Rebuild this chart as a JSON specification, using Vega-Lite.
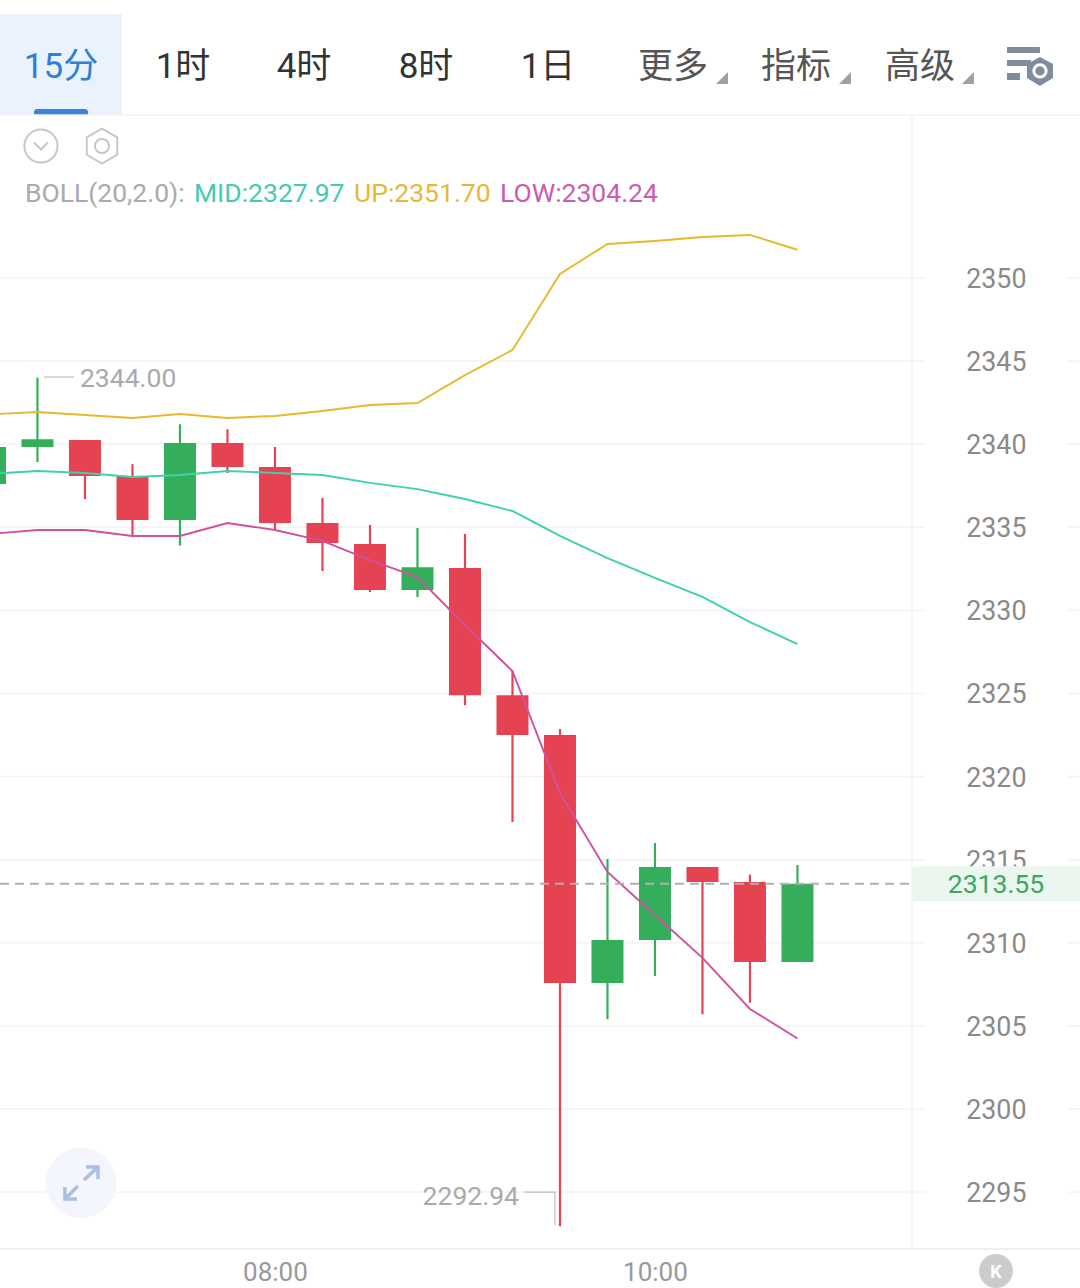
{
"$schema":"https://vega.github.io/schema/vega-lite/v6.json",
"width":1080,"height":1288,"padding":0,"autosize":{"type":"none"},"background":"#ffffff",
"config":{"view":{"stroke":null},"font":"Roboto","text":{"font":"Roboto, Noto Sans CJK SC","dy":1.5},"scale":{"continuousPadding":0}},
"datasets":{
"levels":[{"level":2295},{"level":2300},{"level":2305},{"level":2310},{"level":2315},{"level":2320},{"level":2325},{"level":2330},{"level":2335},{"level":2340},{"level":2345},{"level":2350}],
"candles":[
{"time":"2024-01-01T06:30:00Z","open":2337.6,"close":2339.83,"high":2339.83,"low":2337.6,"dir":"up"},
{"time":"2024-01-01T06:45:00Z","open":2339.83,"close":2340.3,"high":2344.0,"low":2338.93,"dir":"up"},
{"time":"2024-01-01T07:00:00Z","open":2340.25,"close":2338.09,"high":2340.25,"low":2336.7,"dir":"down"},
{"time":"2024-01-01T07:15:00Z","open":2338.09,"close":2335.44,"high":2338.8,"low":2334.54,"dir":"down"},
{"time":"2024-01-01T07:30:00Z","open":2335.44,"close":2340.07,"high":2341.2,"low":2333.9,"dir":"up"},
{"time":"2024-01-01T07:45:00Z","open":2340.07,"close":2338.63,"high":2340.9,"low":2338.27,"dir":"down"},
{"time":"2024-01-01T08:00:00Z","open":2338.63,"close":2335.26,"high":2339.83,"low":2334.84,"dir":"down"},
{"time":"2024-01-01T08:15:00Z","open":2335.26,"close":2334.05,"high":2336.76,"low":2332.37,"dir":"down"},
{"time":"2024-01-01T08:30:00Z","open":2334.0,"close":2331.23,"high":2335.14,"low":2331.1,"dir":"down"},
{"time":"2024-01-01T08:45:00Z","open":2331.23,"close":2332.6,"high":2334.96,"low":2330.8,"dir":"up"},
{"time":"2024-01-01T09:00:00Z","open":2332.55,"close":2324.9,"high":2334.6,"low":2324.3,"dir":"down"},
{"time":"2024-01-01T09:15:00Z","open":2324.9,"close":2322.5,"high":2326.35,"low":2317.27,"dir":"down"},
{"time":"2024-01-01T09:30:00Z","open":2322.5,"close":2307.58,"high":2322.86,"low":2292.94,"dir":"down"},
{"time":"2024-01-01T09:45:00Z","open":2307.58,"close":2310.17,"high":2315.04,"low":2305.4,"dir":"up"},
{"time":"2024-01-01T10:00:00Z","open":2310.17,"close":2314.56,"high":2316.0,"low":2308.0,"dir":"up"},
{"time":"2024-01-01T10:15:00Z","open":2314.56,"close":2313.66,"high":2314.56,"low":2305.7,"dir":"down"},
{"time":"2024-01-01T10:30:00Z","open":2313.66,"close":2308.85,"high":2314.1,"low":2306.4,"dir":"down"},
{"time":"2024-01-01T10:45:00Z","open":2308.85,"close":2313.55,"high":2314.68,"low":2308.85,"dir":"up"}
],
"bands":[
{"time":"2024-01-01T06:30:00Z","band":"UP","value":2341.79},{"time":"2024-01-01T06:45:00Z","band":"UP","value":2341.94},{"time":"2024-01-01T07:00:00Z","band":"UP","value":2341.76},{"time":"2024-01-01T07:15:00Z","band":"UP","value":2341.58},{"time":"2024-01-01T07:30:00Z","band":"UP","value":2341.82},{"time":"2024-01-01T07:45:00Z","band":"UP","value":2341.58},{"time":"2024-01-01T08:00:00Z","band":"UP","value":2341.7},{"time":"2024-01-01T08:15:00Z","band":"UP","value":2342.0},{"time":"2024-01-01T08:30:00Z","band":"UP","value":2342.36},{"time":"2024-01-01T08:45:00Z","band":"UP","value":2342.48},{"time":"2024-01-01T09:00:00Z","band":"UP","value":2344.16},{"time":"2024-01-01T09:15:00Z","band":"UP","value":2345.67},{"time":"2024-01-01T09:30:00Z","band":"UP","value":2350.24},{"time":"2024-01-01T09:45:00Z","band":"UP","value":2352.05},{"time":"2024-01-01T10:00:00Z","band":"UP","value":2352.23},{"time":"2024-01-01T10:15:00Z","band":"UP","value":2352.47},{"time":"2024-01-01T10:30:00Z","band":"UP","value":2352.59},{"time":"2024-01-01T10:45:00Z","band":"UP","value":2351.7},
{"time":"2024-01-01T06:30:00Z","band":"MID","value":2338.21},{"time":"2024-01-01T06:45:00Z","band":"MID","value":2338.39},{"time":"2024-01-01T07:00:00Z","band":"MID","value":2338.27},{"time":"2024-01-01T07:15:00Z","band":"MID","value":2338.03},{"time":"2024-01-01T07:30:00Z","band":"MID","value":2338.15},{"time":"2024-01-01T07:45:00Z","band":"MID","value":2338.39},{"time":"2024-01-01T08:00:00Z","band":"MID","value":2338.27},{"time":"2024-01-01T08:15:00Z","band":"MID","value":2338.15},{"time":"2024-01-01T08:30:00Z","band":"MID","value":2337.67},{"time":"2024-01-01T08:45:00Z","band":"MID","value":2337.3},{"time":"2024-01-01T09:00:00Z","band":"MID","value":2336.7},{"time":"2024-01-01T09:15:00Z","band":"MID","value":2335.98},{"time":"2024-01-01T09:30:00Z","band":"MID","value":2334.48},{"time":"2024-01-01T09:45:00Z","band":"MID","value":2333.15},{"time":"2024-01-01T10:00:00Z","band":"MID","value":2331.95},{"time":"2024-01-01T10:15:00Z","band":"MID","value":2330.81},{"time":"2024-01-01T10:30:00Z","band":"MID","value":2329.3},{"time":"2024-01-01T10:45:00Z","band":"MID","value":2327.97},
{"time":"2024-01-01T06:30:00Z","band":"LOW","value":2334.6},{"time":"2024-01-01T06:45:00Z","band":"LOW","value":2334.84},{"time":"2024-01-01T07:00:00Z","band":"LOW","value":2334.84},{"time":"2024-01-01T07:15:00Z","band":"LOW","value":2334.48},{"time":"2024-01-01T07:30:00Z","band":"LOW","value":2334.48},{"time":"2024-01-01T07:45:00Z","band":"LOW","value":2335.26},{"time":"2024-01-01T08:00:00Z","band":"LOW","value":2334.84},{"time":"2024-01-01T08:15:00Z","band":"LOW","value":2334.18},{"time":"2024-01-01T08:30:00Z","band":"LOW","value":2333.03},{"time":"2024-01-01T08:45:00Z","band":"LOW","value":2332.01},{"time":"2024-01-01T09:00:00Z","band":"LOW","value":2329.12},{"time":"2024-01-01T09:15:00Z","band":"LOW","value":2326.35},{"time":"2024-01-01T09:30:00Z","band":"LOW","value":2319.01},{"time":"2024-01-01T09:45:00Z","band":"LOW","value":2314.26},{"time":"2024-01-01T10:00:00Z","band":"LOW","value":2311.67},{"time":"2024-01-01T10:15:00Z","band":"LOW","value":2309.09},{"time":"2024-01-01T10:30:00Z","band":"LOW","value":2306.02},{"time":"2024-01-01T10:45:00Z","band":"LOW","value":2304.24}
]},
"data":{"name":"candles"},
"resolve":{"scale":{"color":"independent"},"axis":{"x":"independent","y":"independent"}},
"layer":[
{"data":{"name":"levels"},"mark":{"type":"rule","color":"#f3f3f3","strokeWidth":1.5},
"encoding":{
"x":{"datum":1704090790000,"type":"temporal","scale":{"type":"utc","domain":[1704090790000,1704111253000],"nice":false,"padding":0},
"axis":{"orient":"bottom","offset":-39,"title":null,"domain":false,"ticks":false,"grid":false,"values":[1704096000000,1704103200000],"format":"%H:%M","labelFontSize":26,"labelColor":"#999999","labelPadding":10,"labelFont":"Roboto","labelBaseline":"top"}},
"x2":{"datum":1704108316000},
"y":{"field":"level","type":"quantitative","scale":{"domain":[2289.229,2366.727],"nice":false,"zero":false},
"axis":{"orient":"right","title":null,"domain":false,"ticks":false,"grid":false,"values":[2295,2300,2305,2310,2315,2320,2325,2330,2335,2340,2345,2350],"format":"d","labelFontSize":26.8,"labelColor":"#8a8a8a","labelPadding":-54,"labelAlign":"right","labelFont":"Roboto","labelOffset":1.5}}}},
{"data":{"name":"levels"},"mark":{"type":"rule","color":"#f3f3f3","strokeWidth":1.5},
"encoding":{"x":{"datum":1704111025000,"type":"temporal","axis":null},"x2":{"datum":1704111253000},"y":{"field":"level","type":"quantitative","axis":null}}},

{"data":{"values":[{"part":"tab"}]},"mark":{"type":"rect","color":"#e9f2fd"},"encoding":{"x":{"datum":1704090790000,"type":"temporal","axis":null},"x2":{"datum":1704093101000},"y":{"datum":2365.88,"type":"quantitative","axis":null},"y2":{"datum":2359.81}}},
{"data":{"values":[{"part":"tab marker"}]},"mark":{"type":"rect","color":"#3b82e0","cornerRadiusTopLeft":5,"cornerRadiusTopRight":5},"encoding":{"x":{"datum":1704091434000,"type":"temporal","axis":null},"x2":{"datum":1704092457000},"y":{"datum":2360.17,"type":"quantitative","axis":null},"y2":{"datum":2359.81}}},
{"data":{"values":[{"part":"header line"}]},"mark":{"type":"rule","color":"#f3f3f3","strokeWidth":1.5},"encoding":{"x":{"datum":1704090790000,"type":"temporal","axis":null},"x2":{"datum":1704111253000},"y":{"datum":2359.81,"type":"quantitative","axis":null}}},
{"data":{"values":[{"part":"footer line"}]},"mark":{"type":"rule","color":"#f0f0f0","strokeWidth":2},"encoding":{"x":{"datum":1704090790000,"type":"temporal","axis":null},"x2":{"datum":1704111253000},"y":{"datum":2291.58,"type":"quantitative","axis":null}}},
{"data":{"values":[{"part":"price divider"}]},"mark":{"type":"rule","color":"#f1f1f1","strokeWidth":1.5},"encoding":{"x":{"datum":1704108070000,"type":"temporal","axis":null},"y":{"datum":2359.81,"type":"quantitative","axis":null},"y2":{"datum":2291.64}}},

{"data":{"values":[{"label":"15分"}]},"mark":{"type":"text","fontSize":35,"color":"#2f7fd6","baseline":"middle"},"encoding":{"text":{"field":"label"},"x":{"datum":1704091945000,"type":"temporal","axis":null},"y":{"datum":2362.76,"type":"quantitative","axis":null}}},
{"data":{"values":[{"label":"1时"}]},"mark":{"type":"text","fontSize":35,"color":"#333333","baseline":"middle"},"encoding":{"text":{"field":"label"},"x":{"datum":1704094257000,"type":"temporal","axis":null},"y":{"datum":2362.76,"type":"quantitative","axis":null}}},
{"data":{"values":[{"label":"4时"}]},"mark":{"type":"text","fontSize":35,"color":"#333333","baseline":"middle"},"encoding":{"text":{"field":"label"},"x":{"datum":1704096550000,"type":"temporal","axis":null},"y":{"datum":2362.76,"type":"quantitative","axis":null}}},
{"data":{"values":[{"label":"8时"}]},"mark":{"type":"text","fontSize":35,"color":"#333333","baseline":"middle"},"encoding":{"text":{"field":"label"},"x":{"datum":1704098861000,"type":"temporal","axis":null},"y":{"datum":2362.76,"type":"quantitative","axis":null}}},
{"data":{"values":[{"label":"1日"}]},"mark":{"type":"text","fontSize":35,"color":"#333333","baseline":"middle"},"encoding":{"text":{"field":"label"},"x":{"datum":1704101173000,"type":"temporal","axis":null},"y":{"datum":2362.76,"type":"quantitative","axis":null}}},
{"data":{"values":[{"label":"更多"}]},"mark":{"type":"text","fontSize":35,"color":"#555555","baseline":"middle"},"encoding":{"text":{"field":"label"},"x":{"datum":1704103541000,"type":"temporal","axis":null},"y":{"datum":2362.76,"type":"quantitative","axis":null}}},
{"data":{"values":[{"label":"指标"}]},"mark":{"type":"text","fontSize":35,"color":"#555555","baseline":"middle"},"encoding":{"text":{"field":"label"},"x":{"datum":1704105872000,"type":"temporal","axis":null},"y":{"datum":2362.76,"type":"quantitative","axis":null}}},
{"data":{"values":[{"label":"高级"}]},"mark":{"type":"text","fontSize":35,"color":"#555555","baseline":"middle"},"encoding":{"text":{"field":"label"},"x":{"datum":1704108221000,"type":"temporal","axis":null},"y":{"datum":2362.76,"type":"quantitative","axis":null}}},
{"data":{"values":[{"part":"menu corner"}]},"mark":{"type":"point","shape":"M 1 -1 L 1 1 L -1 1 Z","filled":true,"color":"#a0a0a0","opacity":1,"size":144},"encoding":{"x":{"datum":1704104470000,"type":"temporal","axis":null},"y":{"datum":2362.03,"type":"quantitative","axis":null}}},
{"data":{"values":[{"part":"menu corner"}]},"mark":{"type":"point","shape":"M 1 -1 L 1 1 L -1 1 Z","filled":true,"color":"#a0a0a0","opacity":1,"size":144},"encoding":{"x":{"datum":1704106800000,"type":"temporal","axis":null},"y":{"datum":2362.03,"type":"quantitative","axis":null}}},
{"data":{"values":[{"part":"menu corner"}]},"mark":{"type":"point","shape":"M 1 -1 L 1 1 L -1 1 Z","filled":true,"color":"#a0a0a0","opacity":1,"size":144},"encoding":{"x":{"datum":1704109130000,"type":"temporal","axis":null},"y":{"datum":2362.03,"type":"quantitative","axis":null}}},
{"data":{"values":[{"part":"settings"}]},"mark":{"type":"point","shape":"M -0.92 -0.76 L 0.4 -0.76 L 0.4 -0.52 L -0.92 -0.52 Z M -0.92 -0.24 L 0.04 -0.24 L 0.04 0 L -0.92 0 Z M -0.92 0.28 L -0.4 0.28 L -0.4 0.56 L -0.92 0.56 Z M 0.4 -0.36 L 0.92 -0.08 L 0.92 0.48 L 0.4 0.8 L -0.12 0.48 L -0.12 -0.08 Z","filled":true,"color":"#7f8d9b","opacity":1,"size":2500},"encoding":{"x":{"datum":1704110305000,"type":"temporal","axis":null},"y":{"datum":2362.76,"type":"quantitative","axis":null}}},
{"data":{"values":[{"part":"settings ring"}]},"mark":{"type":"point","shape":"circle","filled":false,"stroke":"#ffffff","strokeWidth":3,"opacity":1,"size":150},"encoding":{"x":{"datum":1704110495000,"type":"temporal","axis":null},"y":{"datum":2362.46,"type":"quantitative","axis":null}}},

{"data":{"values":[{"part":"collapse"}]},"mark":{"type":"point","shape":"circle","filled":false,"stroke":"#c8c8c8","strokeWidth":2,"opacity":1,"size":1100},"encoding":{"x":{"datum":1704091566000,"type":"temporal","axis":null},"y":{"datum":2357.94,"type":"quantitative","axis":null}}},
{"data":{"values":[{"part":"chevron"}]},"mark":{"type":"point","shape":"M -1 -0.5 L 0 0.5 L 1 -0.5","filled":false,"stroke":"#c8c8c8","strokeWidth":2,"opacity":1,"size":196},"encoding":{"x":{"datum":1704091566000,"type":"temporal","axis":null},"y":{"datum":2357.94,"type":"quantitative","axis":null}}},
{"data":{"values":[{"part":"hex"}]},"mark":{"type":"point","shape":"M 0 -1 L 0.87 -0.5 L 0.87 0.5 L 0 1 L -0.87 0.5 L -0.87 -0.5 Z","filled":false,"stroke":"#c8c8c8","strokeWidth":2,"opacity":1,"size":1225},"encoding":{"x":{"datum":1704092722000,"type":"temporal","axis":null},"y":{"datum":2357.94,"type":"quantitative","axis":null}}},
{"data":{"values":[{"part":"hex hole"}]},"mark":{"type":"point","shape":"circle","filled":false,"stroke":"#c8c8c8","strokeWidth":2,"opacity":1,"size":200},"encoding":{"x":{"datum":1704092722000,"type":"temporal","axis":null},"y":{"datum":2357.94,"type":"quantitative","axis":null}}},

{"data":{"values":[{"label":"BOLL(20,2.0):"}]},"mark":{"type":"text","fontSize":26.5,"color":"#aaaaaa","align":"left","baseline":"middle"},"encoding":{"text":{"field":"label"},"x":{"datum":1704091263000,"type":"temporal","axis":null},"y":{"datum":2355.17,"type":"quantitative","axis":null}}},
{"data":{"values":[{"label":"MID:2327.97"}]},"mark":{"type":"text","fontSize":26.5,"color":"#45cbae","align":"left","baseline":"middle"},"encoding":{"text":{"field":"label"},"x":{"datum":1704094465000,"type":"temporal","axis":null},"y":{"datum":2355.17,"type":"quantitative","axis":null}}},
{"data":{"values":[{"label":"UP:2351.70"}]},"mark":{"type":"text","fontSize":26.5,"color":"#e9b63c","align":"left","baseline":"middle"},"encoding":{"text":{"field":"label"},"x":{"datum":1704097497000,"type":"temporal","axis":null},"y":{"datum":2355.17,"type":"quantitative","axis":null}}},
{"data":{"values":[{"label":"LOW:2304.24"}]},"mark":{"type":"text","fontSize":26.5,"color":"#cd5cb0","align":"left","baseline":"middle"},"encoding":{"text":{"field":"label"},"x":{"datum":1704100263000,"type":"temporal","axis":null},"y":{"datum":2355.17,"type":"quantitative","axis":null}}},

{"mark":{"type":"rule","strokeWidth":2.2,"clip":true},"encoding":{
"x":{"field":"time","type":"temporal","axis":null,"scale":{"type":"utc","domain":[1704090790000,1704111253000],"nice":false,"padding":0}},
"y":{"field":"low","type":"quantitative","axis":null},"y2":{"field":"high"},
"color":{"field":"dir","type":"nominal","legend":null,"scale":{"domain":["up","down"],"range":["#34ae5a","#e64352"]}}}},
{"mark":{"type":"bar","width":32,"clip":true},"encoding":{
"x":{"field":"time","type":"temporal","axis":null,"scale":{"type":"utc","domain":[1704090790000,1704111253000],"nice":false,"padding":0}},
"y":{"field":"open","type":"quantitative","axis":null},"y2":{"field":"close"},
"color":{"field":"dir","type":"nominal","legend":null,"scale":{"domain":["up","down"],"range":["#34ae5a","#e64352"]}}}},
{"data":{"name":"bands"},"mark":{"type":"line","strokeWidth":1.9,"clip":true,"interpolate":"linear"},"encoding":{
"x":{"field":"time","type":"temporal","axis":null,"scale":{"type":"utc","domain":[1704090790000,1704111253000],"nice":false,"padding":0}},
"y":{"field":"value","type":"quantitative","axis":null},
"color":{"field":"band","type":"nominal","legend":null,"scale":{"domain":["UP","MID","LOW"],"range":["#e8b92e","#3fd0af","#d0509f"]}}}},

{"data":{"values":[{"label":"2344.00"}]},"mark":{"type":"text","fontSize":26.5,"color":"#aaaaaa","align":"left","baseline":"middle"},"encoding":{"text":{"field":"label"},"x":{"datum":1704092305000,"type":"temporal","axis":null},"y":{"datum":2344.0,"type":"quantitative","axis":null}}},
{"data":{"values":[{"part":"high leader"}]},"mark":{"type":"rule","color":"#bdbdbd","strokeWidth":1.2},"encoding":{"x":{"datum":1704091623000,"type":"temporal","axis":null},"x2":{"datum":1704092192000},"y":{"datum":2344.04,"type":"quantitative","axis":null}}},
{"data":{"values":[{"label":"2292.94"}]},"mark":{"type":"text","fontSize":26.5,"color":"#aaaaaa","align":"right","baseline":"middle"},"encoding":{"text":{"field":"label"},"x":{"datum":1704100623000,"type":"temporal","axis":null},"y":{"datum":2294.8,"type":"quantitative","axis":null}}},
{"data":{"values":[{"part":"low leader"}]},"mark":{"type":"rule","color":"#bdbdbd","strokeWidth":1.2},"encoding":{"x":{"datum":1704100718000,"type":"temporal","axis":null},"x2":{"datum":1704101305000},"y":{"datum":2295.0,"type":"quantitative","axis":null}}},
{"data":{"values":[{"part":"low leader"}]},"mark":{"type":"rule","color":"#bdbdbd","strokeWidth":1.2},"encoding":{"x":{"datum":1704101305000,"type":"temporal","axis":null},"y":{"datum":2295.0,"type":"quantitative","axis":null},"y2":{"datum":2293.0}}},

{"data":{"values":[{"part":"expand"}]},"mark":{"type":"point","shape":"circle","filled":true,"color":"#f3f7fd","opacity":1,"size":5000},"encoding":{"x":{"datum":1704092324000,"type":"temporal","axis":null},"y":{"datum":2295.55,"type":"quantitative","axis":null}}},
{"data":{"values":[{"part":"expand arrows"}]},"mark":{"type":"point","shape":"M 0.15 -0.15 L 0.85 -0.8 M 0.25 -0.8 L 0.85 -0.8 L 0.85 -0.2 M -0.15 0.15 L -0.8 0.8 M -0.8 0.2 L -0.8 0.8 L -0.2 0.8","filled":false,"stroke":"#a9bfe3","strokeWidth":3.5,"opacity":1,"size":1600},"encoding":{"x":{"datum":1704092324000,"type":"temporal","axis":null},"y":{"datum":2295.55,"type":"quantitative","axis":null}}},

{"data":{"values":[{"part":"last price"}]},"mark":{"type":"rule","color":"#b0b0b0","strokeWidth":2,"strokeDash":[9,6]},"encoding":{"x":{"datum":1704090790000,"type":"temporal","axis":null},"x2":{"datum":1704108070000},"y":{"datum":2313.55,"type":"quantitative","axis":null}}},
{"data":{"values":[{"part":"price tag"}]},"mark":{"type":"rect","color":"#ebf6ee"},"encoding":{"x":{"datum":1704108070000,"type":"temporal","axis":null},"x2":{"datum":1704111253000},"y":{"datum":2314.6,"type":"quantitative","axis":null},"y2":{"datum":2312.5}}},
{"data":{"values":[{"label":"2313.55"}]},"mark":{"type":"text","fontSize":26.5,"color":"#3aa860","baseline":"middle"},"encoding":{"text":{"field":"label"},"x":{"datum":1704109661000,"type":"temporal","axis":null},"y":{"datum":2313.55,"type":"quantitative","axis":null}}},

{"data":{"values":[{"part":"k button"}]},"mark":{"type":"point","shape":"circle","filled":true,"color":"#cccccc","opacity":1,"size":1150},"encoding":{"x":{"datum":1704109661000,"type":"temporal","axis":null},"y":{"datum":2290.25,"type":"quantitative","axis":null}}},
{"data":{"values":[{"label":"K"}]},"mark":{"type":"text","fontSize":18,"fontWeight":"bold","color":"#ffffff","baseline":"middle"},"encoding":{"text":{"field":"label"},"x":{"datum":1704109661000,"type":"temporal","axis":null},"y":{"datum":2290.25,"type":"quantitative","axis":null}}}
]
}
